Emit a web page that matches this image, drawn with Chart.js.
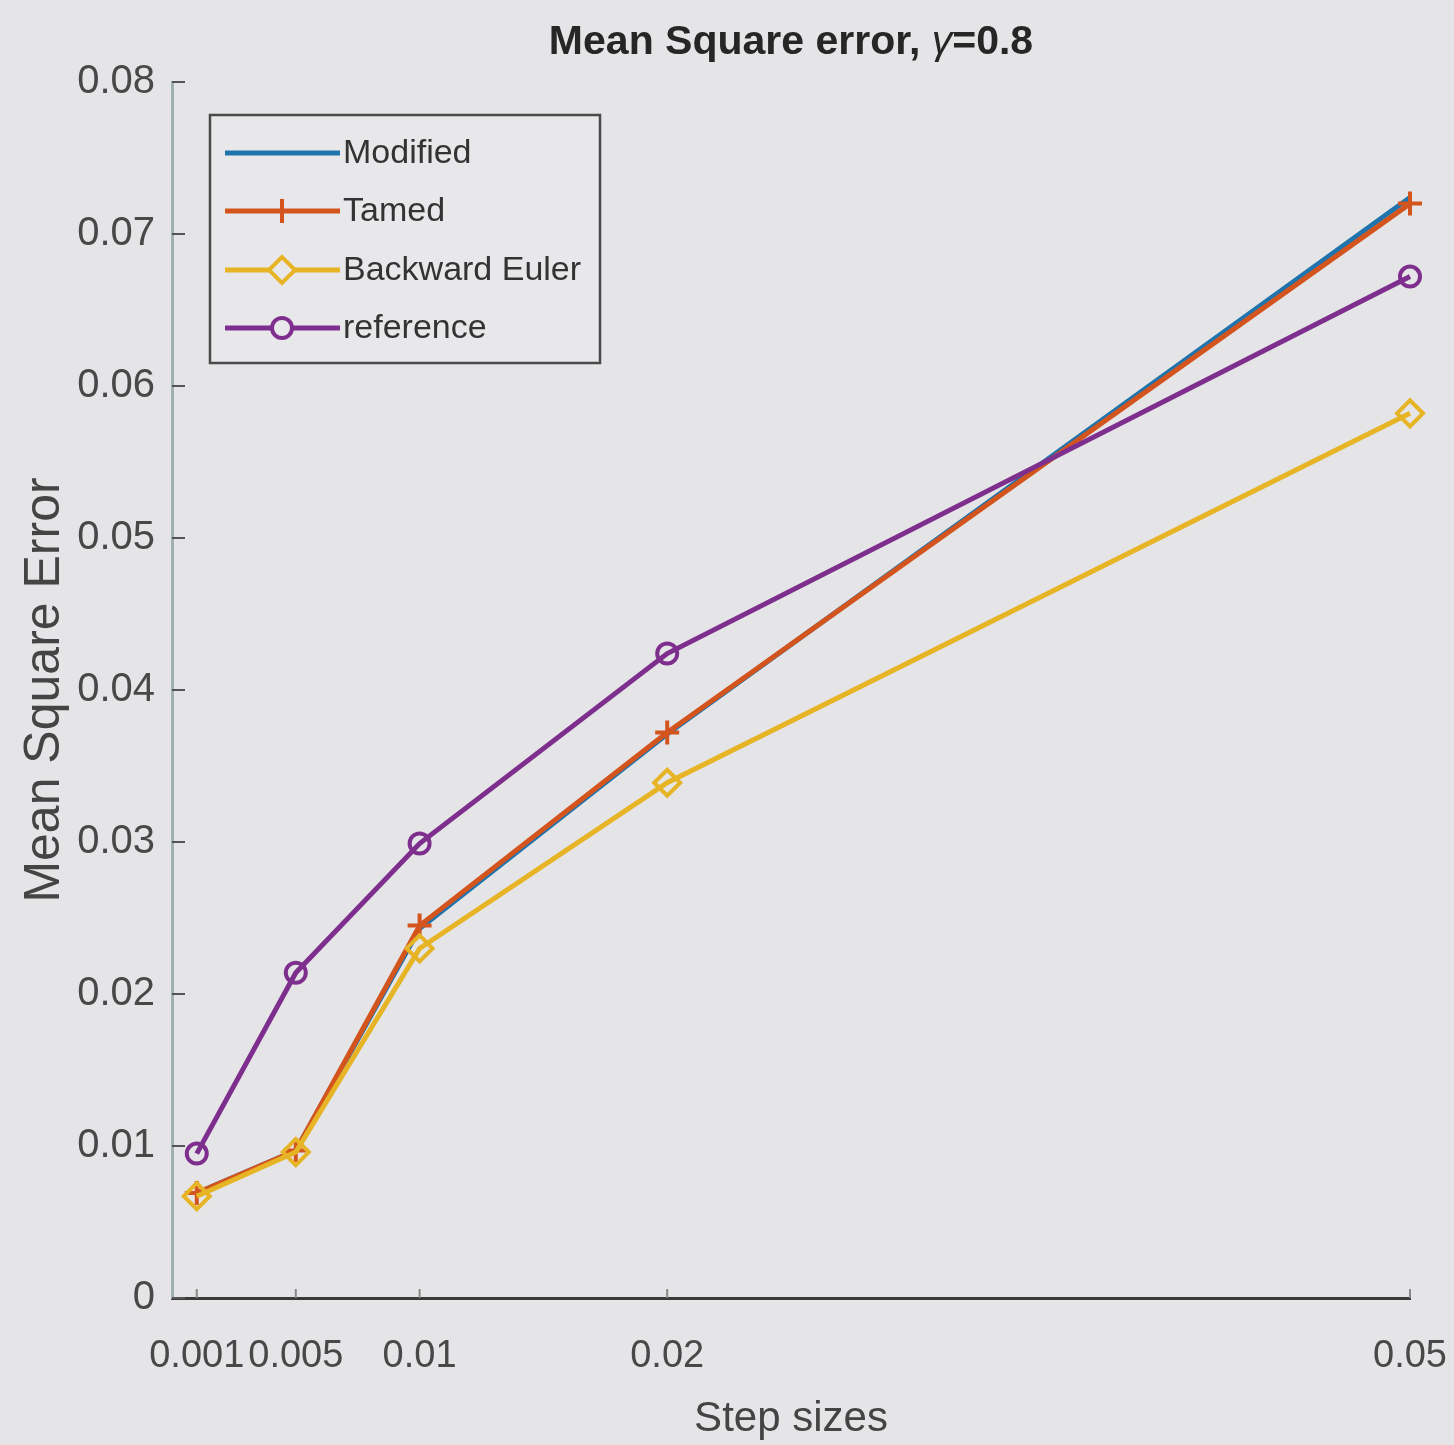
<!DOCTYPE html>
<html>
<head>
<meta charset="utf-8">
<script src="https://cdn.jsdelivr.net/npm/chart.js@4/dist/chart.umd.min.js"></script>
<style>
  html, body { margin: 0; padding: 0; background: #e5e5e7; }
  #wrap { width: 1454px; height: 1445px; }
</style>
</head>
<body>
<div id="wrap"><canvas id="c" width="1454" height="1445"></canvas></div>
<script>
// ---- data ----
const stepSizes = [0.001, 0.005, 0.01, 0.02, 0.05];
const modified = [0.0069, 0.0097, 0.0243, 0.0371, 0.0724];
const tamed = [0.0069, 0.0097, 0.0245, 0.0372, 0.0720];
const backwardEuler = [0.0067, 0.0096, 0.0230, 0.0339, 0.0582];
const referenceErr = [0.0095, 0.0214, 0.0299, 0.0424, 0.0672];
const seriesNames = ['Modified', 'Tamed', 'Backward Euler', 'reference'];
const xTickValues = [0.001, 0.005, 0.01, 0.02, 0.05];
const xTickLabels = ['0.001', '0.005', '0.01', '0.02', '0.05'];
const yTickLabels = ['0', '0.01', '0.02', '0.03', '0.04', '0.05', '0.06', '0.07', '0.08'];
const titleParts = ['Mean Square error, ', '\u03B3', '=0.8'];
const xTitle = 'Step sizes';
const yTitle = 'Mean Square Error';

const SANS = "'Liberation Sans', Arial, sans-serif";
const BG = '#e5e5e7';

function pts(arr) { return stepSizes.map((x, i) => ({ x: x, y: arr[i] })); }

const styles = [
  { color: '#1f74ad', pointStyle: false, radius: 0, order: 4 },
  { color: '#d4541e', pointStyle: 'cross', radius: 12, order: 3 },
  { color: '#e6b424', pointStyle: 'rectRot', radius: 13, order: 2 },
  { color: '#7e2f8e', pointStyle: 'circle', radius: 10, order: 1 }
];
const seriesData = [modified, tamed, backwardEuler, referenceErr];

const datasets = seriesData.map((arr, i) => ({
  label: seriesNames[i],
  data: pts(arr),
  borderColor: styles[i].color,
  backgroundColor: 'rgba(0,0,0,0)',
  borderWidth: 5,
  pointStyle: styles[i].pointStyle,
  pointRadius: styles[i].radius,
  pointBorderWidth: 4,
  pointBorderColor: styles[i].color,
  pointBackgroundColor: 'rgba(0,0,0,0)',
  tension: 0,
  clip: false,
  order: styles[i].order
}));

const bgPlugin = {
  id: 'bg',
  beforeDraw(chart) {
    const ctx = chart.ctx;
    ctx.save();
    ctx.fillStyle = BG;
    ctx.fillRect(0, 0, chart.width, chart.height);
    ctx.restore();
  }
};

const titlePlugin = {
  id: 'centeredTitle',
  afterDraw(chart) {
    const ctx = chart.ctx;
    const { left, right } = chart.chartArea;
    const fonts = ['bold 41px ' + SANS, 'italic 41px ' + SANS, 'bold 41px ' + SANS];
    ctx.save();
    ctx.fillStyle = '#262626';
    ctx.textBaseline = 'middle';
    ctx.textAlign = 'left';
    const widths = titleParts.map((t, i) => { ctx.font = fonts[i]; return ctx.measureText(t).width; });
    const total = widths.reduce((a, b) => a + b, 0);
    let x = (left + right) / 2 - total / 2;
    titleParts.forEach((t, i) => {
      ctx.font = fonts[i];
      ctx.fillText(t, x, 43);
      x += widths[i];
    });
    ctx.restore();
  }
};

const innerTicks = {
  id: 'innerTicks',
  afterDatasetsDraw(chart) {
    const ctx = chart.ctx;
    const { left, bottom } = chart.chartArea;
    const ys = chart.scales.y, xs = chart.scales.x;
    ctx.save();
    ctx.strokeStyle = '#555';
    ctx.lineWidth = 2;
    ys.ticks.forEach(t => {
      const py = ys.getPixelForValue(t.value);
      ctx.beginPath(); ctx.moveTo(left, py); ctx.lineTo(left + 13, py); ctx.stroke();
    });
    ctx.strokeStyle = '#888';
    xs.ticks.forEach(t => {
      const px = xs.getPixelForValue(t.value);
      ctx.beginPath(); ctx.moveTo(px, bottom); ctx.lineTo(px, bottom - 9); ctx.stroke();
    });
    ctx.restore();
  }
};

const boxLegend = {
  id: 'boxLegend',
  afterDraw(chart) {
    const ctx = chart.ctx;
    const { left, top } = chart.chartArea;
    const bx = left + 38, by = top + 33, bw = 390, bh = 248;
    ctx.save();
    ctx.fillStyle = '#e8e8ea';
    ctx.fillRect(bx, by, bw, bh);
    ctx.strokeStyle = '#4a4a4a';
    ctx.lineWidth = 2.5;
    ctx.strokeRect(bx, by, bw, bh);
    const rowY = [38, 96, 155, 213];
    ctx.textBaseline = 'middle';
    ctx.textAlign = 'left';
    chart.data.datasets.forEach((ds, i) => {
      const y = by + rowY[i];
      ctx.strokeStyle = ds.borderColor;
      ctx.lineWidth = 5;
      ctx.beginPath(); ctx.moveTo(bx + 15, y); ctx.lineTo(bx + 130, y); ctx.stroke();
      if (ds.pointStyle) {
        ctx.strokeStyle = ds.borderColor;
        ctx.fillStyle = '#e8e8ea';
        ctx.lineWidth = 4;
        Chart.helpers.drawPoint(ctx, {
          pointStyle: ds.pointStyle, radius: ds.pointRadius, rotation: 0, borderWidth: 4
        }, bx + 72, y);
      }
      ctx.font = '34px ' + SANS;
      ctx.fillStyle = '#333';
      ctx.fillText(ds.label, bx + 133, y + 1);
    });
    ctx.restore();
  }
};

new Chart(document.getElementById('c'), {
  type: 'line',
  data: { datasets: datasets },
  plugins: [bgPlugin, innerTicks, boxLegend, titlePlugin],
  options: {
    responsive: false,
    devicePixelRatio: 1,
    animation: false,
    events: [],
    layout: { padding: { left: 0, right: 44, top: 82, bottom: 0 } },
    plugins: {
      legend: { display: false },
      tooltip: { enabled: false },
      title: { display: false }
    },
    scales: {
      x: {
        type: 'linear',
        min: 0,
        max: 0.05,
        afterBuildTicks(scale) { scale.ticks = xTickValues.map(v => ({ value: v })); },
        afterFit(scale) { scale.height = 147; scale.paddingLeft = 0; scale.paddingRight = 0; },
        grid: { display: true, drawOnChartArea: false, drawTicks: false },
        border: { display: true, color: '#3a3a3a', width: 3 },
        ticks: {
          autoSkip: false,
          maxRotation: 0,
          minRotation: 0,
          padding: 36,
          color: '#484848',
          font: { family: SANS, size: 38 },
          callback(value, index) { return xTickLabels[index]; }
        },
        title: {
          display: true,
          text: xTitle,
          color: '#444',
          font: { family: SANS, size: 42 },
          padding: { top: 0, bottom: 0 }
        }
      },
      y: {
        type: 'linear',
        min: 0,
        max: 0.08,
        afterFit(scale) { scale.width = 172; scale.paddingTop = 0; scale.paddingBottom = 0; },
        grid: { display: true, drawOnChartArea: false, drawTicks: false },
        border: { display: true, color: '#9fb2b0', width: 3 },
        ticks: {
          stepSize: 0.01,
          padding: 17,
          color: '#484848',
          font: { family: SANS, size: 40 },
          callback(value, index) { return yTickLabels[index]; }
        },
        title: {
          display: true,
          text: yTitle,
          color: '#444',
          font: { family: SANS, size: 50 },
          padding: { top: 15, bottom: 0 }
        }
      }
    }
  }
});
</script>
</body>
</html>
